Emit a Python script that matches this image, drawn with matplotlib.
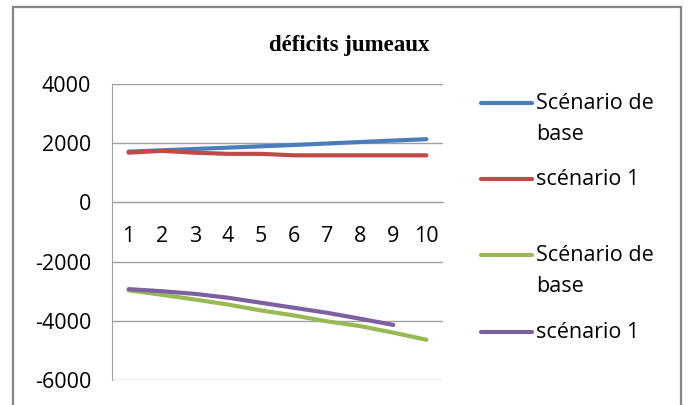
import matplotlib.pyplot as plt
from matplotlib.lines import Line2D
from matplotlib.patches import Rectangle

# periods on the category axis
periods = [1, 2, 3, 4, 5, 6, 7, 8, 9, 10]

# upper pair of series
base_upper = [1715, 1760, 1805, 1850, 1895, 1940, 1990, 2040, 2090, 2135]
scen1_upper = [1680, 1740, 1680, 1640, 1640, 1590, 1590, 1590, 1590, 1590]

# lower pair of series (scenario 1 stops at period 9)
base_lower = [-2970, -3120, -3280, -3450, -3650, -3820, -4020, -4180, -4400, -4640]
scen1_lower = [-2930, -3000, -3090, -3220, -3390, -3560, -3730, -3930, -4140]

labels = ['Scénario de\nbase', 'scénario 1', 'Scénario de\nbase', 'scénario 1']
colors = ['#4A7EBB', '#BE4B48', '#98B954', '#7D60A0']
title = 'déficits jumeaux'

W, H = 689, 405
plt.rcParams['font.family'] = ['Open Sans', 'DejaVu Sans']
plt.rcParams['axes.unicode_minus'] = False
fs = 15.5

fig = plt.figure(figsize=(W / 100, H / 100), dpi=100)
ax = fig.add_axes([112 / W, 1 - 380 / H, (443 - 112) / W, (380 - 84) / H])

series = [(periods, base_upper), (periods, scen1_upper),
          (periods, base_lower), (periods[:len(scen1_lower)], scen1_lower)]
lines = []
for (xs, ys), c in zip(series, colors):
    ln, = ax.plot(xs, ys, color=c, lw=3, solid_capstyle='round')
    lines.append(ln)

grid_c = '#A0A0A0'
ax.set_xlim(0.5, 10.5)
ax.set_ylim(-6000, 4000)
ax.set_yticks(range(-6000, 4001, 2000))
ax.set_xticks(periods)
ax.yaxis.grid(True, color=grid_c, lw=1)
ax.set_axisbelow(True)
for s in ['top', 'right']:
    ax.spines[s].set_visible(False)
ax.spines['left'].set_color(grid_c)
ax.spines['bottom'].set_color(grid_c)
ax.spines['bottom'].set_position(('data', 0))
ax.tick_params(axis='y', length=0, pad=15, labelsize=fs, colors='#000000')
ax.tick_params(axis='x', length=0, pad=17, labelsize=fs, colors='#000000')

fig.text(349 / W, 1 - 45 / H, title, ha='center', va='center',
         family='Liberation Serif', weight='bold', fontsize=16.5)

# legend drawn beside the plot area
legend_y = [103, 179, 255, 332]
for ln, lab, py in zip(lines, labels, legend_y):
    yf = 1 - py / H
    fig.add_artist(Line2D([481 / W, 532 / W], [yf, yf], color=ln.get_color(),
                          lw=3, solid_capstyle='round'))
    fig.text(536 / W, yf + 10 / H, lab, ha='left', va='top', fontsize=fs,
             linespacing=1.6)

# outer chart border
fig.add_artist(Rectangle((13 / W, -0.05), (681 - 13) / W, 1.05 - 7 / H,
                         transform=fig.transFigure, fill=False,
                         edgecolor='#868686', lw=1.6))

fig.savefig('out.png', dpi=100)
